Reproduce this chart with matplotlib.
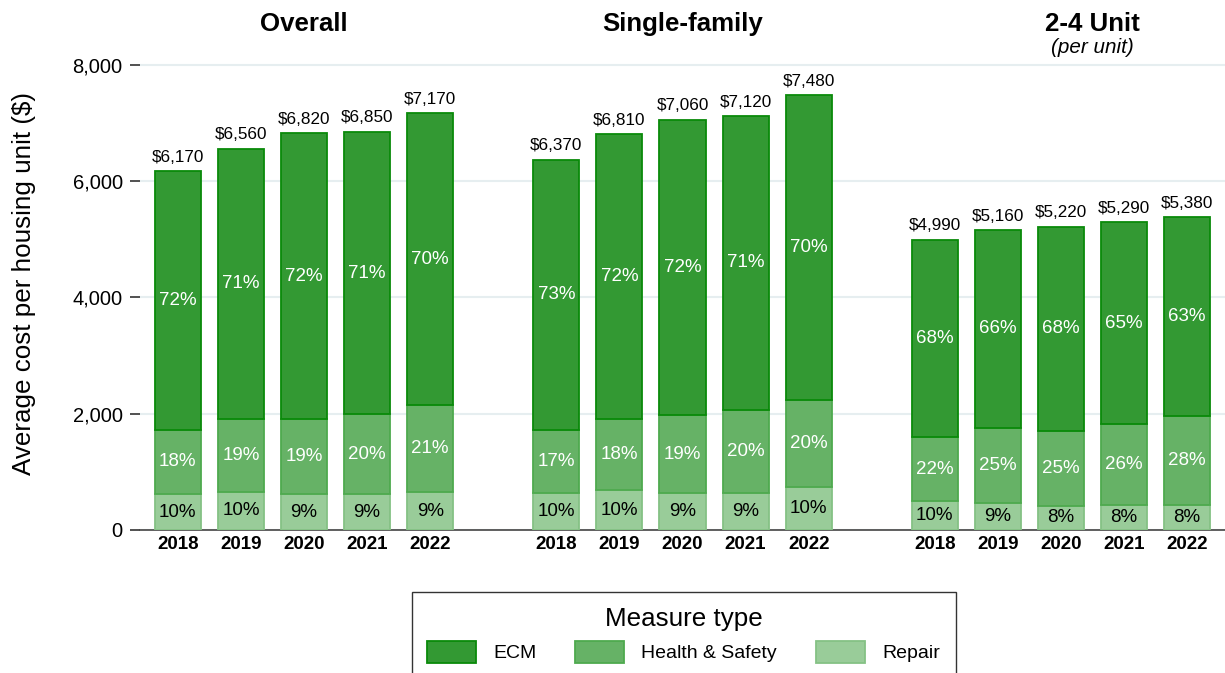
import numpy as np
import matplotlib.pyplot as plt
from matplotlib.patches import Patch

plt.rcParams['font.family'] = ['Liberation Sans', 'DejaVu Sans']

years = ['2018', '2019', '2020', '2021', '2022']
groups = ['Overall', 'Single-family', '2-4 Unit']

# average total cost per housing unit ($)
total_overall = [6170, 6560, 6820, 6850, 7170]
total_single = [6370, 6810, 7060, 7120, 7480]
total_24unit = [4990, 5160, 5220, 5290, 5380]

# share of total by measure type (%)
ecm_overall = [72, 71, 72, 71, 70]
hs_overall = [18, 19, 19, 20, 21]
repair_overall = [10, 10, 9, 9, 9]

ecm_single = [73, 72, 72, 71, 70]
hs_single = [17, 18, 19, 20, 20]
repair_single = [10, 10, 9, 9, 10]

ecm_24unit = [68, 66, 68, 65, 63]
hs_24unit = [22, 25, 25, 26, 28]
repair_24unit = [10, 9, 8, 8, 8]

measures = ['ECM', 'Health & Safety', 'Repair']
fills = {'ECM': '#339933', 'Health & Safety': '#66b266', 'Repair': '#99cc99'}
edges = {'ECM': '#0a8a0a', 'Health & Safety': '#4eaa4e', 'Repair': '#85c285'}
txtcol = {'ECM': 'white', 'Health & Safety': 'white', 'Repair': 'black'}

totals = [total_overall, total_single, total_24unit]
shares = [
    {'Repair': repair_overall, 'Health & Safety': hs_overall, 'ECM': ecm_overall},
    {'Repair': repair_single, 'Health & Safety': hs_single, 'ECM': ecm_single},
    {'Repair': repair_24unit, 'Health & Safety': hs_24unit, 'ECM': ecm_24unit},
]

fig = plt.figure(figsize=(12.25, 6.73), dpi=100)
ax = fig.add_axes([0.1143, 0.2125, 0.8857, 0.6954])

offsets = [0, 6, 12]
xt, xl = [], []
for g in range(3):
    x = np.arange(5) + offsets[g]
    tot = np.array(totals[g], dtype=float)
    # rounded shares don't always add to 100, so scale to the total
    ssum = sum(np.array(shares[g][m], dtype=float) for m in measures)
    bottom = np.zeros(5)
    for m in ['Repair', 'Health & Safety', 'ECM']:
        pct = np.array(shares[g][m], dtype=float)
        h = tot * pct / ssum
        ax.bar(x, h, bottom=bottom, width=0.73, color=fills[m],
               edgecolor=edges[m], linewidth=1.3, zorder=3)
        for xi, b, hi, p in zip(x, bottom, h, pct):
            ax.text(xi, b + hi / 2, f'{int(p)}%', ha='center', va='center',
                    fontsize=13.5, color=txtcol[m], zorder=4)
        bottom += h
    for xi, t in zip(x, tot):
        ax.text(xi, t + 110, f'${int(t):,}', ha='center', va='bottom',
                fontsize=12.3, color='black', zorder=4)
    xt += list(x)
    xl += years

ax.set_xlim(-0.6, 16.6)
ax.set_ylim(0, 8050)
ax.set_xticks(xt)
ax.set_xticklabels(xl, fontsize=13.5, fontweight='bold')
ax.tick_params(axis='x', length=0, pad=4)
ax.set_yticks([0, 2000, 4000, 6000, 8000])
ax.set_yticklabels(['0', '2,000', '4,000', '6,000', '8,000'], fontsize=14.5)
ax.tick_params(axis='y', length=7.5, width=1.2, color='#333333', pad=5)
ax.grid(axis='y', color='#e6eef0', linewidth=1.5, zorder=0)
for s in ['left', 'right', 'top']:
    ax.spines[s].set_visible(False)
ax.spines['bottom'].set_color('#444444')
ax.spines['bottom'].set_linewidth(1.2)
ax.set_ylabel('Average cost per housing unit ($)', fontsize=18.7)
ax.yaxis.set_label_coords(-0.0959, 0.526)

trans = ax.get_xaxis_transform()
ax.text(2, 1.066, 'Overall', transform=trans, ha='center', va='baseline',
        fontsize=18.6, fontweight='bold')
ax.text(8, 1.066, 'Single-family', transform=trans, ha='center', va='baseline',
        fontsize=18.6, fontweight='bold')
ax.text(14.5, 1.066, '2-4 Unit', transform=trans, ha='center', va='baseline',
        fontsize=18.6, fontweight='bold')
ax.text(14.5, 1.02, '(per unit)', transform=trans, ha='center', va='baseline',
        fontsize=14.9, style='italic')

handles = [Patch(facecolor=fills[m], edgecolor=edges[m], linewidth=1.3) for m in measures]
leg = fig.legend(handles, measures, loc='upper center', bbox_to_anchor=(0.558, 0.121),
                 ncol=3, title='Measure type', title_fontsize=18.7, fontsize=14,
                 frameon=True, fancybox=False, edgecolor='black',
                 handlelength=2.5, handleheight=1.35, handletextpad=0.9,
                 columnspacing=2.0, borderpad=0.8, borderaxespad=0)
leg.get_frame().set_linewidth(1.0)

fig.savefig('out.png', dpi=100)
